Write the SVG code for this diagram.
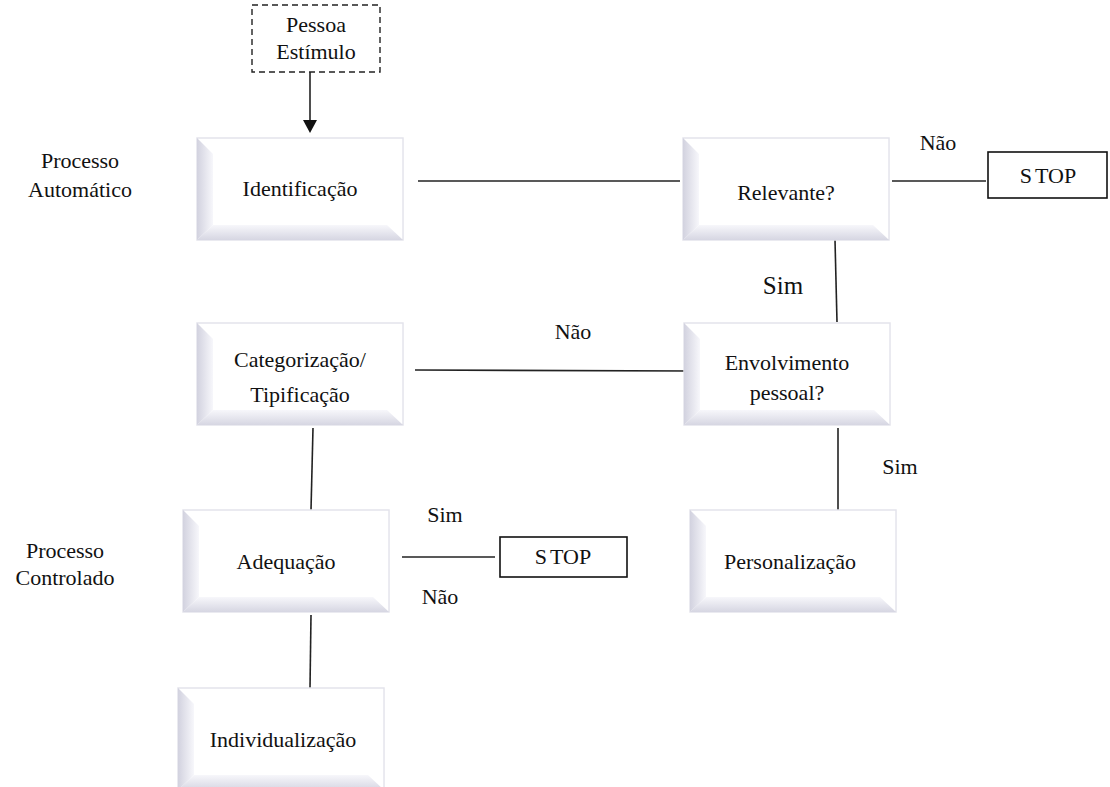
<svg xmlns="http://www.w3.org/2000/svg" width="1110" height="787" viewBox="0 0 1110 787">
<style>
text{font-family:"Liberation Serif",Tinos,"Times New Roman","Noto Serif","DejaVu Serif",serif;font-size:22px;fill:#111;text-anchor:middle}
.big{font-size:25px}
.edge{stroke:#222;stroke-width:1.6;fill:none}
.frame{fill:#fff;stroke:#e4e4ec;stroke-width:1.5}
.lb{fill:url(#gl)}
.bb{fill:url(#gb)}
.stop{fill:#fff;stroke:#111;stroke-width:1.6}
</style>
<defs>
<linearGradient id="gl" x1="0" y1="0" x2="1" y2="0"><stop offset="0" stop-color="#d2d2df"/><stop offset="1" stop-color="#f7f7fb"/></linearGradient>
<linearGradient id="gb" x1="0" y1="0" x2="0" y2="1"><stop offset="0" stop-color="#f7f7fb"/><stop offset="1" stop-color="#d6d6e2"/></linearGradient>
<g id="bevel">
<rect class="frame" x="0" y="0" width="206" height="102"/>
<path class="lb" d="M0,0 L16,16 L16,87 L0,102 Z"/>
<path class="bb" d="M0,102 L16,87 L190,87 L206,102 Z"/>
</g>
</defs>
<rect width="1110" height="787" fill="#fff"/>
<text x="80" y="168">Processo</text>
<text x="80" y="197">Automático</text>
<text x="65" y="558">Processo</text>
<text x="65" y="585">Controlado</text>
<g id="connectors">
<line class="edge" x1="310" y1="72" x2="310" y2="122"/>
<path d="M303,120 L317,120 L310,133 Z" fill="#111"/>
<line class="edge" x1="418" y1="181" x2="680" y2="181"/>
<line class="edge" x1="892" y1="181" x2="986" y2="181"/>
<line class="edge" x1="835" y1="240" x2="837" y2="322"/>
<line class="edge" x1="415" y1="370" x2="692" y2="371"/>
<line class="edge" x1="838" y1="428" x2="838" y2="510"/>
<line class="edge" x1="313" y1="428" x2="311" y2="510"/>
<line class="edge" x1="402" y1="557" x2="495" y2="557"/>
<line class="edge" x1="311" y1="615" x2="310" y2="688"/>
<text x="938" y="150">Não</text>
<text x="783" y="294" class="big">Sim</text>
<text x="573" y="339">Não</text>
<text x="900" y="474">Sim</text>
<text x="445" y="522">Sim</text>
<text x="440" y="604">Não</text>
</g>
<g id="pessoa">
<rect x="252" y="5" width="128" height="67" fill="#fff" stroke="#222" stroke-width="1.4" stroke-dasharray="6,4"/>
<text x="316" y="32">Pessoa</text>
<text x="316" y="59">Estímulo</text>
</g>
<g id="identificacao"><use href="#bevel" x="197" y="138"/><text x="300" y="196">Identificação</text></g>
<g id="relevante"><use href="#bevel" x="683" y="138"/><text x="786" y="200">Relevante?</text></g>
<g id="stop1"><rect class="stop" x="988" y="152" width="119" height="46"/><text x="1048" y="183">S<tspan dx="3">TOP</tspan></text></g>
<g id="categorizacao"><use href="#bevel" x="197" y="323"/><text x="300" y="367">Categorização/</text><text x="300" y="402">Tipificação</text></g>
<g id="envolvimento"><use href="#bevel" x="684" y="323"/><text x="787" y="370">Envolvimento</text><text x="787" y="400">pessoal?</text></g>
<g id="adequacao"><use href="#bevel" x="183" y="510"/><text x="286" y="569">Adequação</text></g>
<g id="stop2"><rect class="stop" x="500" y="537" width="127" height="40"/><text x="563" y="564">S<tspan dx="3">TOP</tspan></text></g>
<g id="personalizacao"><use href="#bevel" x="690" y="510"/><text x="790" y="569">Personalização</text></g>
<g id="individualizacao"><use href="#bevel" x="178" y="688"/><text x="283" y="747">Individualização</text></g>
</svg>
